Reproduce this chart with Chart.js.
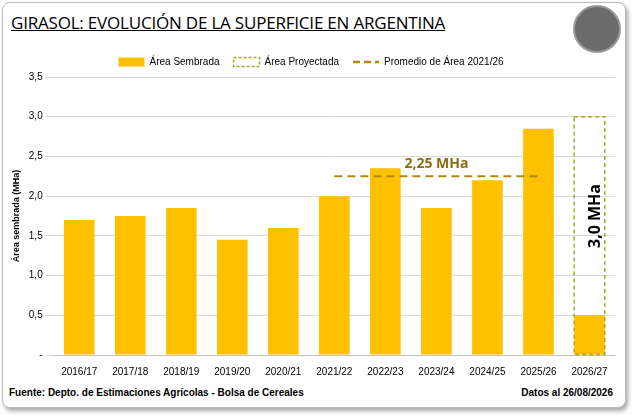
<!DOCTYPE html>
<html><head><meta charset="utf-8">
<script src="https://cdn.jsdelivr.net/npm/chart.js@4"></script>
<style>
body{margin:0;background:#fff;font-family:"Open Sans",Arial,sans-serif;}
#box{position:absolute;left:2px;top:2px;width:622px;height:404px;border:1px solid #bbb;border-radius:8px;box-shadow:2px 3px 4px rgba(0,0,0,0.35);background:#fff;}
#title{position:absolute;left:8px;top:8px;font-size:17px;color:#000;text-decoration:underline;font-family:"Open Sans",sans-serif;letter-spacing:-0.2px;}
#logo{position:absolute;left:570px;top:2px;width:44px;height:44px;border-radius:50%;background:#6b6b6b;border:2px solid #999;}
#wrap{position:absolute;left:0;top:40px;width:622px;height:338px;}
#foot{position:absolute;left:6px;top:384px;font-size:10px;font-weight:bold;font-family:Arial,sans-serif;}
#date{position:absolute;right:12px;top:384px;font-size:10px;font-weight:bold;font-family:Arial,sans-serif;}
</style></head><body>
<div id="box">
<div id="title">GIRASOL: EVOLUCIÓN DE LA SUPERFICIE EN ARGENTINA</div>
<div id="logo"></div>
<div id="wrap"><canvas id="c"></canvas></div>
<div id="foot">Fuente: Depto. de Estimaciones Agrícolas - Bolsa de Cereales</div>
<div id="date">Datos al 26/08/2026</div>
</div>
<script>
const campaigns = ['2016/17','2017/18','2018/19','2019/20','2020/21','2021/22','2022/23','2023/24','2024/25','2025/26','2026/27'];
const sown = [1.7, 1.75, 1.85, 1.45, 1.6, 2.0, 2.35, 1.85, 2.2, 2.85, 0.5];
const projected = [null, null, null, null, null, null, null, null, null, null, 3.0];
const average = [null, null, null, null, null, 2.25, 2.25, 2.25, 2.25, 2.25, null];

const labelsPlugin = {
  id: 'labels',
  afterDraw(chart) {
    const ctx = chart.ctx, x = chart.scales.x, y = chart.scales.y;
    ctx.save();
    // dashed outline for projected bar
    const meta = chart.getDatasetMeta(1);
    meta.data.forEach((bar, i) => {
      if (projected[i] == null) return;
      ctx.strokeStyle = '#a8a820';
      ctx.lineWidth = 1.5;
      ctx.setLineDash([4, 3]);
      ctx.strokeRect(bar.x - bar.width / 2, bar.y, bar.width, bar.base - bar.y);
    });
    // legend line icon
    const hb = chart.legend.legendHitBoxes[2];
    if (hb) {
      ctx.strokeStyle = '#b0890f';
      ctx.lineWidth = 2.5;
      ctx.setLineDash([7, 4]);
      ctx.beginPath();
      ctx.moveTo(hb.left, hb.top + hb.height / 2);
      ctx.lineTo(hb.left + 26, hb.top + hb.height / 2);
      ctx.stroke();
    }
    ctx.setLineDash([]);
    ctx.fillStyle = '#8a6d12';
    ctx.font = 'bold 14px "Open Sans", sans-serif';
    ctx.textAlign = 'center';
    ctx.fillText('2,25 MHa', x.getPixelForValue(7), y.getPixelForValue(2.25) - 12);
    ctx.fillStyle = '#000';
    ctx.font = 'bold 16px "Open Sans", sans-serif';
    ctx.translate(x.getPixelForValue(10) + 6, y.getPixelForValue(1.75));
    ctx.rotate(-Math.PI / 2);
    ctx.fillText('3,0 MHa', 0, 0);
    ctx.restore();
  }
};

new Chart(document.getElementById('c'), {
  data: {
    labels: campaigns,
    datasets: [
      { type: 'bar', label: 'Área Sembrada', data: sown, backgroundColor: '#FFC000', grouped: false, order: 2, barPercentage: 0.6, categoryPercentage: 1 },
      { type: 'bar', label: 'Área Proyectada', data: projected, backgroundColor: 'rgba(0,0,0,0)', borderWidth: 0, grouped: false, order: 3, barPercentage: 0.6, categoryPercentage: 1 },
      { type: 'line', label: 'Promedio de Área 2021/26', data: average, borderColor: '#b0890f', borderWidth: 2, borderDash: [8, 5], pointRadius: 0, order: 1 }
    ]
  },
  options: {
    responsive: true, maintainAspectRatio: false, animation: false,
    layout: { padding: { left: 4, right: 10 } },
    plugins: {
      legend: {
        position: 'top', align: 'center',
        labels: {
          font: { size: 10, family: 'Arial' }, color: '#000', boxWidth: 26, boxHeight: 9, padding: 14,
          generateLabels(chart) {
            return [
              { text: 'Área Sembrada', fillStyle: '#FFC000', strokeStyle: '#FFC000', lineWidth: 0, datasetIndex: 0 },
              { text: 'Área Proyectada', fillStyle: 'rgba(0,0,0,0)', strokeStyle: '#a8a820', lineWidth: 1.5, lineDash: [3, 2], datasetIndex: 1 },
              { text: 'Promedio de Área 2021/26', fillStyle: 'rgba(0,0,0,0)', strokeStyle: 'rgba(0,0,0,0)', lineWidth: 0, datasetIndex: 2 }
            ];
          }
        }
      },
      tooltip: { enabled: false }
    },
    scales: {
      x: { grid: { display: false }, ticks: { color: '#000', font: { size: 10, family: 'Arial' } } },
      y: {
        min: 0, max: 3.5,
        ticks: { stepSize: 0.5, color: '#000', font: { size: 10, family: 'Arial' },
          callback: v => v === 0 ? '-' : v.toFixed(1).replace('.', ',') },
        grid: { color: '#d9d9d9' }, border: { display: false },
        title: { display: true, text: 'Área sembrada (MHa)', font: { size: 9, weight: 'bold', family: 'Arial' }, color: '#000' }
      }
    }
  },
  plugins: [labelsPlugin]
});
</script>
</body></html>
